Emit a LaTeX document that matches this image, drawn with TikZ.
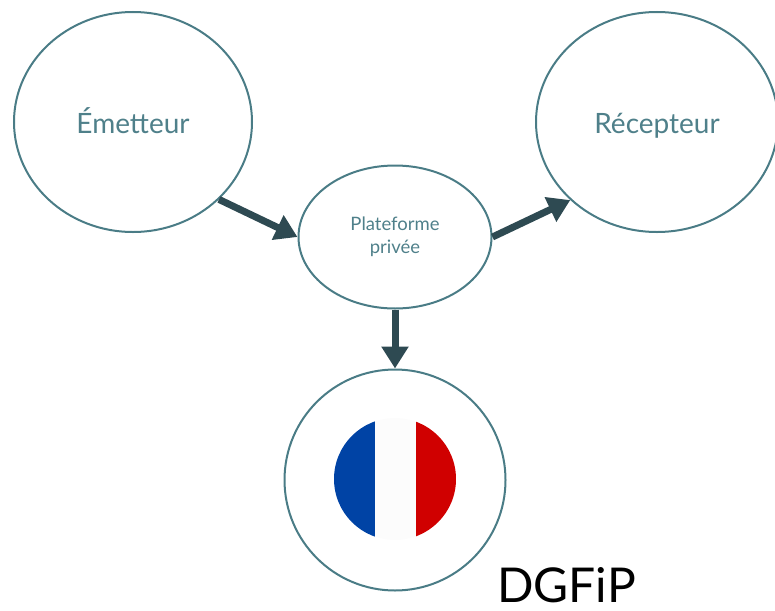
\documentclass[tikz,border=0pt]{standalone}
\usepackage{fontspec}
\setmainfont{Lato}
\usetikzlibrary{shapes.geometric,arrows.meta}
\definecolor{outl}{HTML}{4A7C86}
\definecolor{txt}{HTML}{4F808A}
\definecolor{arr}{HTML}{2E4A52}
\definecolor{fblue}{HTML}{0043A5}
\definecolor{fred}{HTML}{D00000}
\begin{document}
\begin{tikzpicture}[x=1pt,y=-1pt,
  bubble/.style={ellipse,draw=outl,line width=2pt,inner sep=0pt,text=txt,font=\fontsize{28}{32}\selectfont},
  big/.style={text height=28pt,text depth=6pt},
  flow/.style={draw=arr,line width=7pt,-{Triangle[length=22pt,width=26pt]},shorten >=0pt}]
\useasboundingbox (0,0) rectangle (775,610);
\node[bubble,big,minimum width=238pt,minimum height=220pt] (emet) at (133,122) {Émetteur};
\node[bubble,big,minimum width=242pt,minimum height=220pt] (rec) at (657,122) {Récepteur};
\node[bubble,minimum width=193pt,minimum height=143pt,align=center,font=\fontsize{18.5}{23}\selectfont] (plat) at (395,237) {Plateforme\\privée};
\node[bubble,minimum width=221pt,minimum height=221pt] (dgfip) at (395,480) {};
\begin{scope}
  \clip (395,479) circle[radius=61];
  \fill[fblue] (334,418) rectangle (375,541);
  \fill[white!98!gray] (375,418) rectangle (416,541);
  \fill[fred] (416,418) rectangle (457,541);
\end{scope}
\node[anchor=base west,inner sep=0pt,font=\fontsize{48}{52}\selectfont,text=black] (lbl) at (497,602) {DGFiP};
\draw[flow] (emet.-42) -- (plat.west);
\draw[flow] (plat.east) -- (rec.-138);
\draw[flow] (plat.south) -- (dgfip.north);
\end{tikzpicture}
\end{document}
